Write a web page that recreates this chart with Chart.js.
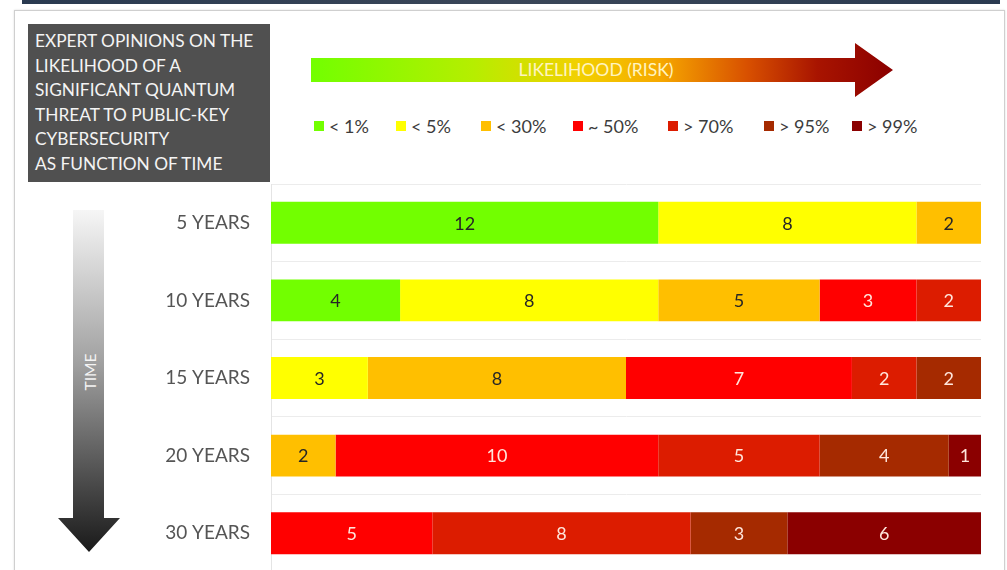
<!DOCTYPE html>
<html>
<head>
<meta charset="utf-8">
<script src="https://cdn.jsdelivr.net/npm/chart.js@4.4.0/dist/chart.umd.min.js"></script>
<style>
  html, body { margin: 0; padding: 0; width: 1007px; height: 570px; overflow: hidden; background: #fff; font-family: Lato, "Open Sans", sans-serif; }
  .topband { position: absolute; left: 22px; top: 0; width: 978px; height: 4px; background: linear-gradient(90deg, #2a3a50, #3a4658 50%, #2a3a50); }
  .frame { position: absolute; left: 14px; top: 10px; width: 989px; height: 580px; border: 1px solid #cfcfcf; box-shadow: 0 0 2px #ddd; }
  .titlebox { position: absolute; left: 28px; top: 24px; width: 235px; height: 153px; padding: 5px 0 0 7px; background: #505050; color: #f4f4f4; font-size: 17.3px; line-height: 24.6px; }
  .harrow { position: absolute; left: 311px; top: 43px; width: 582px; height: 54px;
    background: linear-gradient(90deg, #72ff00 0%, #b6ee00 28%, #f2d000 46%, #f6a800 60%, #d85000 75%, #a81400 87%, #8b0000 100%);
    clip-path: polygon(0 15px, 544px 15px, 544px 0, 582px 27px, 544px 54px, 544px 39px, 0 39px); }
  .harrow span { position: absolute; left: 0; width: 570px; top: 16px; text-align: center; color: #fff4c0; font-size: 17.5px; line-height: 22px; }
  .varrow { position: absolute; left: 58px; top: 210px; width: 62px; height: 342px;
    background: linear-gradient(180deg, #f6f6f6 0%, #a0a0a0 45%, #4a4a4a 80%, #1a1a1a 100%);
    clip-path: polygon(15px 0, 46px 0, 46px 308px, 62px 308px, 31px 342px, 0 308px, 15px 308px); }
  .vlabel { position: absolute; left: 90px; top: 372px; transform: translate(-50%, -50%) rotate(-90deg); color: #f4f4f4; font-size: 15.5px; }
  .legend { position: absolute; left: 314px; top: 115px; height: 22px; color: #3c3c3c; font-size: 18px; line-height: 22px; white-space: nowrap; }
  .legend div { position: absolute; top: 0; display: flex; align-items: center; }
  .legend i { display: inline-block; width: 10px; height: 10px; margin-right: 5px; }
  #chart { position: absolute; left: 0; top: 183px; }
</style>
</head>
<body>
<div class="topband"></div>
<div class="frame"></div>
<div class="titlebox">EXPERT OPINIONS ON THE<br>LIKELIHOOD OF A<br>SIGNIFICANT QUANTUM<br>THREAT TO PUBLIC-KEY<br>CYBERSECURITY<br>AS FUNCTION OF TIME</div>
<div class="harrow"><span>LIKELIHOOD (RISK)</span></div>
<div class="varrow"></div>
<div class="vlabel">TIME</div>
<div class="legend" id="legend"></div>
<canvas id="chart" width="1007" height="389"></canvas>

<script>
// horizons and number of experts per likelihood bucket
const horizons = ["5 YEARS", "10 YEARS", "15 YEARS", "20 YEARS", "30 YEARS"];
const bucketNames = ["< 1%", "< 5%", "< 30%", "~ 50%", "> 70%", "> 95%", "> 99%"];
const below1 = [12, 4, null, null, null];
const below5 = [8, 8, 3, null, null];
const below30 = [2, 5, 8, 2, null];
const about50 = [null, 3, 7, 10, 5];
const above70 = [null, 2, 2, 5, 8];
const above95 = [null, null, 2, 4, 3];
const above99 = [null, null, null, 1, 6];

const bucketColors = ["#72ff00", "#ffff00", "#ffbf00", "#ff0000", "#dc1c00", "#a52a00", "#8b0000"];
const labelColors = ["#262626", "#262626", "#262626", "#ffe6dc", "#ffe6dc", "#ffe6dc", "#ffe6dc"];
const series = [below1, below5, below30, about50, above70, above95, above99];

// html legend, one slot per bucket
const legendSlots = [0, 82, 167, 259, 354, 450, 538];
const legend = document.getElementById("legend");
bucketNames.forEach((name, i) => {
    const item = document.createElement("div");
    item.style.left = legendSlots[i] + "px";
    item.innerHTML = `<i style="background:${bucketColors[i]}"></i>${name}`;
    legend.appendChild(item);
});

// value written in the middle of each segment
const segmentLabels = {
    id: "segmentLabels",
    afterDatasetsDraw(chart) {
        const ctx = chart.ctx;
        ctx.save();
        ctx.font = "18px Lato, 'Open Sans', sans-serif";
        ctx.textAlign = "center";
        ctx.textBaseline = "middle";
        chart.data.datasets.forEach((ds, i) => {
            chart.getDatasetMeta(i).data.forEach((bar, j) => {
                const v = ds.data[j];
                if (v == null) return;
                ctx.fillStyle = labelColors[i];
                ctx.fillText(v, (bar.x + bar.base) / 2, bar.y + 1);
            });
        });
        ctx.restore();
    }
};

new Chart(document.getElementById("chart"), {
    type: "bar",
    data: {
        labels: horizons,
        datasets: series.map((d, i) => ({
            label: bucketNames[i],
            data: d,
            backgroundColor: bucketColors[i],
            borderWidth: 0,
            barPercentage: 1,
            categoryPercentage: 0.54
        }))
    },
    options: {
        indexAxis: "y",
        responsive: false,
        animation: false,
        layout: { padding: { top: 1, right: 26, bottom: 0, left: 0 } },
        plugins: { legend: { display: false }, tooltip: { enabled: false } },
        scales: {
            x: { stacked: true, min: 0, max: 22, display: false },
            y: {
                stacked: true,
                // fixed label column; no extra space above/below the rows
                afterFit: (scale) => {
                    scale.width = 271;
                    scale.paddingTop = 0;
                    scale.paddingBottom = 0;
                },
                grid: { color: "#ececec", lineWidth: 1, drawTicks: false, offset: true },
                border: { color: "#e4e4e4" },
                ticks: { color: "#555", padding: 21, font: { family: "Lato, 'Open Sans', sans-serif", size: 19 } }
            }
        }
    },
    plugins: [segmentLabels]
});
</script>
</body>
</html>
